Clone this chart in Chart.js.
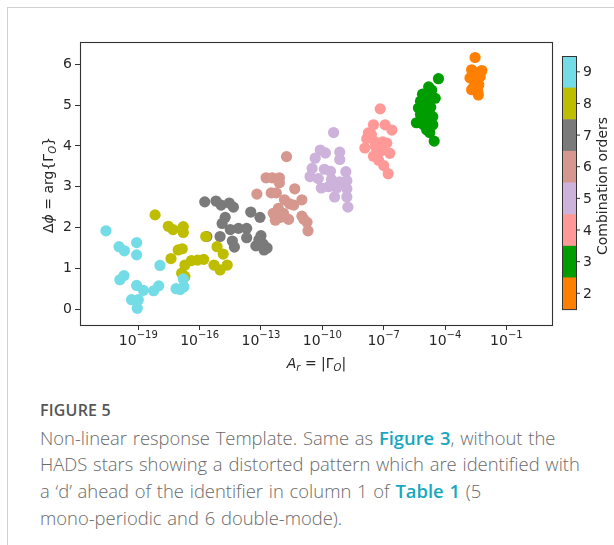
<!DOCTYPE html>
<html>
<head>
<meta charset="utf-8">
<script src="https://cdn.jsdelivr.net/npm/chart.js@4/dist/chart.umd.min.js"></script>
<style>
  html, body { margin: 0; padding: 0; background: #fff; }
  body { width: 614px; height: 545px; position: relative; overflow: hidden; }
  #frame { position: absolute; left: 7px; top: 7px; width: 640px; height: 600px;
           border-left: 1.5px solid #d2d2d2; border-top: 1.5px solid #d2d2d2; }
  #wrap { position: absolute; left: 0; top: 0; width: 614px; height: 390px; }
  #caption { position: absolute; left: 40px; top: 399px; width: 570px;
             font-family: "Open Sans", Lato, sans-serif; color: #6a6a6a; }
  #caption .fig { font-size: 16px; font-weight: 600; color: #555; letter-spacing: 0.2px;
                  line-height: 22px; margin-bottom: 3.6px; }
  #caption .body { font-size: 18.4px; font-weight: 300; line-height: 26.7px; word-spacing: 1px; white-space: nowrap; }
  #caption a { color: #17a7bf; font-weight: 600; text-decoration: none; }
</style>
</head>
<body>
<div id="frame"></div>
<div id="wrap"><canvas id="c" width="614" height="390"></canvas></div>
<div id="caption">
  <div class="fig">FIGURE 5</div>
  <div class="body">
    Non-linear response Template. Same as <a>Figure 3</a>, without the<br>
    HADS stars showing a distorted pattern which are identified with<br>
    a ‘d’ ahead of the identifier in column 1 of <a>Table 1</a> (5<br>
    mono-periodic and 6 double-mode).
  </div>
</div>
<script>
// Combination orders shown in the colour bar, top to bottom
const orders = [9, 8, 7, 6, 5, 4, 3, 2];
const orderColors = ['#73DCE6', '#BEBD00', '#7A7A7A', '#D6978E', '#CDB2DB', '#FF9997', '#009D00', '#FF7F00'];

// log10(A_r) and phase difference for each combination order
const logAr9 = [-20.58, -19.94, -19.68, -19.08, -19.08, -17.94, -19.7, -19.9, -19.08, -18.75, -18.25, -18.0, -19.33, -19.0, -19.05, -17.15, -16.8, -16.77, -16.95];
const phi9   = [1.92, 1.53, 1.43, 1.63, 1.33, 1.07, 0.82, 0.72, 0.58, 0.46, 0.45, 0.57, 0.23, 0.23, 0.02, 0.5, 0.74, 0.55, 0.48];

const logAr8 = [-18.18, -17.53, -17.3, -16.8, -16.8, -15.7, -17.05, -16.85, -17.4, -16.72, -16.4, -16.1, -15.8, -15.3, -15.15, -14.85, -14.65, -15.0, -16.88, -16.72];
const phi8   = [2.31, 2.03, 1.95, 2.02, 1.88, 1.78, 1.45, 1.48, 1.24, 1.08, 1.19, 1.2, 1.22, 1.08, 1.53, 1.35, 1.08, 0.96, 0.88, 0.8];

const logAr7 = [-15.75, -15.2, -14.95, -14.55, -14.35, -14.75, -14.9, -13.5, -13.05, -15.65, -15.0, -14.5, -14.1, -13.7, -13.7, -14.4, -14.3, -13.0, -12.9, -12.7, -12.85, -13.25, -13.1];
const phi7   = [2.63, 2.65, 2.55, 2.6, 2.5, 2.25, 2.1, 2.38, 2.25, 1.78, 1.78, 1.95, 1.98, 1.98, 1.75, 1.67, 1.52, 1.8, 1.6, 1.5, 1.45, 1.55, 1.7];

const logAr6 = [-11.75, -12.75, -12.45, -12.1, -12.1, -13.2, -12.5, -12.25, -11.35, -11.85, -11.6, -11.4, -11.0, -12.15, -12.4, -12.05, -12.3, -11.65, -11.0, -10.9, -10.75, -10.7, -11.9];
const phi6   = [3.74, 3.22, 3.22, 3.22, 3.1, 2.82, 2.85, 2.85, 2.95, 2.68, 2.58, 2.55, 2.68, 2.47, 2.35, 2.25, 2.18, 2.2, 2.28, 2.2, 2.13, 1.92, 2.35];

const logAr5 = [-9.45, -10.1, -9.85, -9.15, -10.35, -9.15, -10.5, -9.9, -9.6, -8.85, -10.6, -10.2, -9.55, -9.15, -8.8, -10.05, -9.55, -9.3, -8.8, -9.4, -8.8, -8.75, -9.7];
const phi5   = [4.33, 3.9, 3.83, 3.85, 3.7, 3.67, 3.45, 3.43, 3.38, 3.37, 3.25, 3.2, 3.18, 3.12, 3.15, 2.97, 3.05, 2.97, 2.95, 2.75, 2.75, 2.5, 3.0];

const logAr4 = [-7.17, -7.5, -6.93, -6.6, -7.75, -7.6, -7.83, -7.42, -7.05, -6.85, -7.92, -7.4, -7.1, -6.7, -7.5, -7.25, -7.0, -6.78];
const phi4   = [4.91, 4.52, 4.52, 4.39, 4.32, 4.28, 4.18, 4.1, 4.1, 4.07, 3.95, 3.98, 3.88, 3.82, 3.75, 3.65, 3.52, 3.32];

const logAr3 = [-4.32, -4.8, -4.65, -5.1, -4.9, -4.48, -5.2, -4.8, -5.3, -4.9, -5.2, -4.6, -4.9, -5.4, -5.05, -4.6, -4.9, -4.75, -4.53, -5.1, -4.7];
const phi3   = [5.65, 5.45, 5.37, 5.27, 5.22, 5.17, 5.1, 5.05, 4.93, 4.88, 4.77, 4.72, 4.65, 4.57, 4.52, 4.52, 4.4, 4.33, 4.12, 4.7, 4.95];

const logAr2 = [-2.53, -2.7, -2.2, -2.5, -2.78, -2.28, -2.53, -2.35, -2.7, -2.4, -2.37, -2.6];
const phi2   = [6.17, 5.87, 5.85, 5.8, 5.67, 5.7, 5.55, 5.5, 5.38, 5.33, 5.25, 5.45];

// Axis ticks
const xTickExps = [-19, -16, -13, -10, -7, -4, -1];
const yTicks = [0, 1, 2, 3, 4, 5, 6];

const seriesX = [logAr9, logAr8, logAr7, logAr6, logAr5, logAr4, logAr3, logAr2];
const seriesY = [phi9, phi8, phi7, phi6, phi5, phi4, phi3, phi2];

const datasets = orders.map((o, i) => ({
  label: 'order ' + o,
  data: seriesX[i].map((lx, k) => ({ x: Math.pow(10, lx), y: seriesY[i][k] })),
  backgroundColor: orderColors[i],
  borderColor: orderColors[i],
  borderWidth: 0,
  pointRadius: 5.6,
  pointHoverRadius: 5.6
}));

const FONT = '"DejaVu Sans", sans-serif';
const TXT = '#262626';

// Draws a run of text pieces (with sub/superscripts) centred on x
function richText(ctx, parts, cx, baseline) {
  let total = 0;
  parts.forEach(p => { ctx.font = p.font; p.w = ctx.measureText(p.t).width; total += p.w; });
  let x = cx - total / 2;
  ctx.textAlign = 'left';
  ctx.textBaseline = 'alphabetic';
  parts.forEach(p => { ctx.font = p.font; ctx.fillText(p.t, x, baseline + (p.dy || 0)); x += p.w; });
}

const decorations = {
  id: 'decorations',
  afterDraw(chart) {
    const ctx = chart.ctx;
    const a = chart.chartArea;
    ctx.save();
    ctx.fillStyle = TXT;

    // plot frame
    ctx.strokeStyle = '#333';
    ctx.lineWidth = 1.1;
    ctx.strokeRect(a.left + 0.5, a.top + 0.5, a.right - a.left - 1, a.bottom - a.top);

    // x tick labels as 10 with a raised exponent
    const xs = chart.scales.x;
    xs.ticks.forEach(t => {
      const px = xs.getPixelForValue(t.value);
      const e = Math.round(Math.log10(t.value));
      richText(ctx, [
        { t: '10', font: '14px ' + FONT },
        { t: '\u2212' + Math.abs(e), font: '10px ' + FONT, dy: -7 }
      ], px, a.bottom + 20);
    });

    // x axis title
    richText(ctx, [
      { t: 'A', font: 'italic 14px ' + FONT },
      { t: 'r', font: 'italic 10px ' + FONT, dy: 3 },
      { t: ' = |\u0393', font: '14px ' + FONT },
      { t: 'O', font: 'italic 10px ' + FONT, dy: 3 },
      { t: '|', font: '14px ' + FONT }
    ], (a.left + a.right) / 2, a.bottom + 43);

    // y axis title, rotated
    ctx.save();
    ctx.translate(53, 185);
    ctx.rotate(-Math.PI / 2);
    richText(ctx, [
      { t: '\u0394', font: '14px ' + FONT },
      { t: '\u03D5', font: 'italic 14px ' + FONT },
      { t: ' = arg{\u0393', font: '14px ' + FONT },
      { t: 'O', font: 'italic 10px ' + FONT, dy: 3 },
      { t: '}', font: '14px ' + FONT }
    ], 0, 0);
    ctx.restore();

    // colour bar
    const cbL = a.right + 9, cbW = 14, cbT = a.top + 14, cbB = chart.scales.y.getPixelForValue(0);
    const segH = (cbB - cbT) / orders.length;
    orders.forEach((o, i) => {
      ctx.fillStyle = orderColors[i];
      ctx.fillRect(cbL, cbT + i * segH, cbW, segH + 0.5);
    });
    ctx.strokeStyle = '#333';
    ctx.lineWidth = 1;
    ctx.strokeRect(cbL + 0.5, cbT + 0.5, cbW, cbB - cbT);
    ctx.fillStyle = TXT;
    ctx.font = '14px ' + FONT;
    ctx.textAlign = 'left';
    ctx.textBaseline = 'middle';
    orders.forEach((o, i) => {
      const cy = cbT + (i + 0.5) * segH;
      ctx.beginPath();
      ctx.moveTo(cbL + cbW, cy);
      ctx.lineTo(cbL + cbW + 4, cy);
      ctx.stroke();
      ctx.fillText(String(o), cbL + cbW + 7, cy + 1);
    });
    ctx.save();
    ctx.translate(603, 186);
    ctx.rotate(-Math.PI / 2);
    ctx.textAlign = 'center';
    ctx.textBaseline = 'middle';
    ctx.fillText('Combination orders', 0, 0);
    ctx.restore();

    ctx.restore();
  }
};

new Chart(document.getElementById('c'), {
  type: 'scatter',
  data: { datasets },
  options: {
    responsive: false,
    animation: false,
    events: [],
    layout: { padding: { left: 0, top: 42, right: 61, bottom: 0 } },
    plugins: { legend: { display: false }, tooltip: { enabled: false } },
    scales: {
      x: {
        type: 'logarithmic',
        min: Math.pow(10, -21.85),
        max: Math.pow(10, 1.28),
        afterBuildTicks: s => { s.ticks = xTickExps.map(e => ({ value: Math.pow(10, e) })); },
        afterFit: s => { s.height = 65; },
        border: { display: false },
        grid: { display: true, drawOnChartArea: false, drawTicks: true, tickLength: 5, tickColor: '#333', lineWidth: 1 },
        ticks: { autoSkip: false, maxRotation: 0, callback: () => '' }
      },
      y: {
        min: -0.39,
        max: 6.55,
        afterBuildTicks: s => { s.ticks = yTicks.map(v => ({ value: v })); },
        afterFit: s => { s.width = 80; },
        border: { display: false },
        grid: { display: true, drawOnChartArea: false, drawTicks: true, tickLength: 5, tickColor: '#333', lineWidth: 1 },
        ticks: { font: { family: 'DejaVu Sans', size: 14 }, color: TXT, padding: 3 }
      }
    }
  },
  plugins: [decorations]
});
</script>
</body>
</html>
